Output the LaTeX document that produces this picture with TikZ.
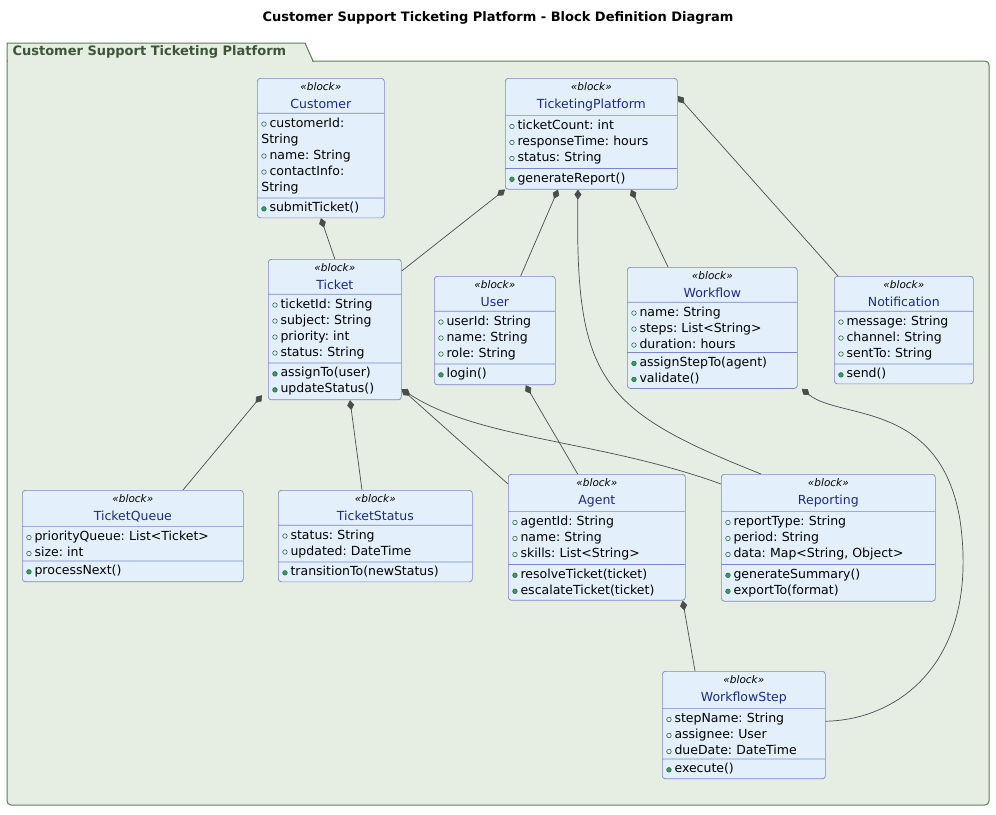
\documentclass[tikz,border=0pt]{standalone}
\usepackage{fontspec}
\setmainfont{DejaVu Sans}
\frenchspacing
\usetikzlibrary{shapes.multipart,arrows.meta,calc}
\definecolor{blkfill}{HTML}{E3F0FB}
\definecolor{blkline}{HTML}{7C86C8}
\definecolor{blkname}{HTML}{1E2A82}
\definecolor{pkgfill}{HTML}{E6EEE4}
\definecolor{pkgline}{HTML}{5E7C5A}
\definecolor{pkgtext}{HTML}{3B5537}
\definecolor{methgreen}{HTML}{3E9A5E}
\newcommand{\stereo}{{\fontsize{10.5}{14}\selectfont\itshape «block»}}
\newcommand{\bname}[1]{{\color{blkname}#1}}
\newcommand{\attr}{\tikz[baseline=-3pt]\draw[methgreen!70!black,line width=0.6pt] (0,0) circle (2.3pt);\hspace{3pt}}
\newcommand{\meth}{\tikz[baseline=-3pt]\draw[methgreen!70!black,fill=methgreen,line width=0.6pt] (0,0) circle (2.3pt);\hspace{3pt}}
\begin{document}
\begin{tikzpicture}[x=1pt,y=-1pt,
  blk/.style={rectangle split, rectangle split parts=3, draw=blkline, fill=blkfill,
    rounded corners=3pt, anchor=north west, inner xsep=4pt, inner ysep=4pt,
    font=\fontsize{12.5}{16}\selectfont\frenchspacing, line width=0.7pt},
  comp/.style={{Diamond[length=10pt,width=7pt,fill=black!70]}-, draw=black!70, line width=0.7pt}]
\useasboundingbox (0,0) rectangle (996,814);
\node[font=\bfseries\fontsize{13}{16}\selectfont] (title) at (498,18) {Customer Support Ticketing Platform - Block Definition Diagram};
% package frame
\draw[pkgline,fill=pkgfill,line width=1pt,rounded corners=4pt] (7,61) -- (7,805) -- (989,805) -- (989,61) -- (313,61);
\draw[pkgline,fill=pkgfill,line width=1pt] (7,61) -- (7,43) -- (305,43) -- (313,61) -- cycle;
\fill[pkgfill] (7.5,60) rectangle (312,62);
\node[anchor=west,text=pkgtext,font=\bfseries\fontsize{13}{16}\selectfont] (pkg) at (9,52) {Customer Support Ticketing Platform};

\node[blk,text width=119pt] (cust) at (257,78) {\centering\stereo\\[2pt]\bname{Customer}\par
  \nodepart{two}\raggedright\attr customerId: String\\\attr name: String\\\attr contactInfo: String
  \nodepart{three}\raggedright\meth submitTicket()};
\node[blk,text width=164pt] (tp) at (505,78) {\centering\stereo\\[2pt]\bname{TicketingPlatform}\par
  \nodepart{two}\raggedright\attr ticketCount: int\\\attr responseTime: hours\\\attr status: String
  \nodepart{three}\raggedright\meth generateReport()};
\node[blk,text width=125pt] (ticket) at (268,259) {\centering\stereo\\[2pt]\bname{Ticket}\par
  \nodepart{two}\raggedright\attr ticketId: String\\\attr subject: String\\\attr priority: int\\\attr status: String
  \nodepart{three}\raggedright\meth assignTo(user)\\\meth updateStatus()};
\node[blk,text width=113pt] (user) at (434,276) {\centering\stereo\\[2pt]\bname{User}\par
  \nodepart{two}\raggedright\attr userId: String\\\attr name: String\\\attr role: String
  \nodepart{three}\raggedright\meth login()};
\node[blk,text width=162pt] (wf) at (627,267) {\centering\stereo\\[2pt]\bname{Workflow}\par
  \nodepart{two}\raggedright\attr name: String\\\attr steps: List<String>\\\attr duration: hours
  \nodepart{three}\raggedright\meth assignStepTo(agent)\\\meth validate()};
\node[blk,text width=131pt] (notif) at (834,276) {\centering\stereo\\[2pt]\bname{Notification}\par
  \nodepart{two}\raggedright\attr message: String\\\attr channel: String\\\attr sentTo: String
  \nodepart{three}\raggedright\meth send()};
\node[blk,text width=213pt] (queue) at (22,490) {\centering\stereo\\[2pt]\bname{TicketQueue}\par
  \nodepart{two}\raggedright\attr priorityQueue: List<Ticket>\\\attr size: int
  \nodepart{three}\raggedright\meth processNext()};
\node[blk,text width=186pt] (tstat) at (278,490) {\centering\stereo\\[2pt]\bname{TicketStatus}\par
  \nodepart{two}\raggedright\attr status: String\\\attr updated: DateTime
  \nodepart{three}\raggedright\meth transitionTo(newStatus)};
\node[blk,text width=169pt] (agent) at (508,474) {\centering\stereo\\[2pt]\bname{Agent}\par
  \nodepart{two}\raggedright\attr agentId: String\\\attr name: String\\\attr skills: List<String>
  \nodepart{three}\raggedright\meth resolveTicket(ticket)\\\meth escalateTicket(ticket)};
\node[blk,text width=206pt] (rep) at (721,474) {\centering\stereo\\[2pt]\bname{Reporting}\par
  \nodepart{two}\raggedright\attr reportType: String\\\attr period: String\\\attr data: Map<String, Object>
  \nodepart{three}\raggedright\meth generateSummary()\\\meth exportTo(format)};
\node[blk,text width=155pt] (wstep) at (662,671) {\centering\stereo\\[2pt]\bname{WorkflowStep}\par
  \nodepart{two}\raggedright\attr stepName: String\\\attr assignee: User\\\attr dueDate: DateTime
  \nodepart{three}\raggedright\meth execute()};

% composition links
\draw[comp] (cust.south) -- (ticket.north);
\draw[comp] (tp.south west) -- ([yshift=-12pt]ticket.north east);
\draw[comp] ([xshift=53pt]tp.south west) -- ([xshift=-35pt]user.north east);
\draw[comp] ([xshift=73pt]tp.south west) .. controls (575,380) and (600,410) .. ([xshift=40pt]rep.north west);
\draw[comp] ([xshift=126pt]tp.south west) -- ([xshift=41pt]wf.north west);
\draw[comp] ([yshift=-18pt]tp.north east) -- ([xshift=4pt]notif.north west);
\draw[comp] ([xshift=-6pt,yshift=5pt]ticket.south west) -- ([xshift=161pt]queue.north west);
\draw[comp] ([xshift=82pt]ticket.south west) -- ([xshift=84pt]tstat.north west);
\draw[comp] ([yshift=11pt]ticket.south east) -- ([yshift=-10pt]agent.north west);
\draw[comp] ([yshift=11pt]ticket.south east) .. controls (480,440) and (600,440) .. ([yshift=-10pt]rep.north west);
\draw[comp] ([xshift=-30pt]user.south east) -- ([xshift=-108pt]agent.north east);
\draw[comp] ([xshift=4pt]wf.south east) .. controls (840,420) and (940,400) .. (960,520) .. controls (980,660) and (900,720) .. ([yshift=58pt]wstep.south east);
\draw[comp] ([xshift=-3pt]agent.south east) -- ([xshift=33pt]wstep.north west);
\end{tikzpicture}
\end{document}
